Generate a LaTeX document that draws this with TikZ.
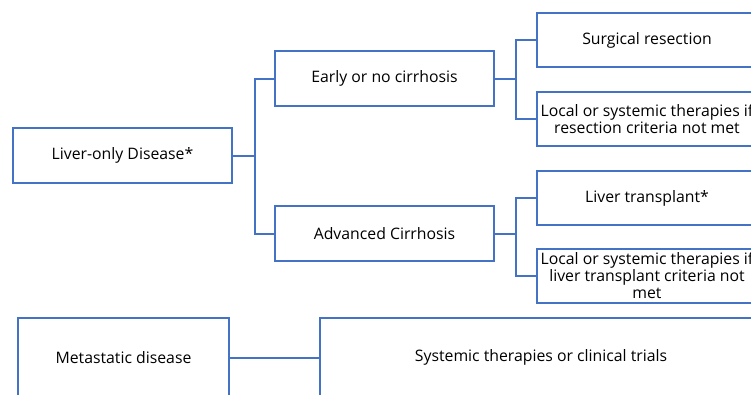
\documentclass[tikz,border=0pt]{standalone}
\usepackage{fontspec}
\setmainfont{Open Sans}
\usetikzlibrary{positioning}
\definecolor{boxblue}{RGB}{68,114,196}

\begin{document}
\begin{tikzpicture}[x=1pt,y=-1pt,
    box/.style={draw=boxblue, line width=2pt, minimum width=219pt,
        minimum height=55pt, align=center, inner sep=1pt,
        font=\fontsize{15.8}{17}\selectfont},
    link/.style={draw=boxblue, line width=2pt}]
    \useasboundingbox (0,0) rectangle (751,394);
    \clip (0,0) rectangle (751,394);
    % left part
    \node[box] (liver) at (122.5,155.5) {Liver-only Disease*};
    \node[box] (early) at (384.5,78.5) {Early or no cirrhosis};
    \node[box,
        below=98pt of early
        ] (adv) {Advanced Cirrhosis};
    % right column
    \node[box, minimum width=220pt, minimum height=54pt
        ] (surg) at (647,40) {Surgical resection};
    \node[box, minimum width=220pt, minimum height=54pt,
        below=23pt of surg
        ] (localres) {Local or systemic therapies if\\ resection criteria not met};
    \node[box, minimum width=220pt, minimum height=54pt,
        below=23pt of localres
        ] (transp) {Liver transplant*};
    \node[box, minimum width=220pt, minimum height=54pt,
        below=22pt of transp
        ] (localtx) {Local or systemic therapies if\\ liver transplant criteria not\\ met};
    % metastatic
    \node[box, minimum width=211pt, minimum height=80pt
        ] (meta) at (123.5,357.5) {Metastatic disease};
    \node[box, minimum width=442pt, minimum height=80pt,
        right=89pt of meta
        ] (syst) {Systemic therapies or clinical trials};

    \draw[link] (liver.east) -- ++(22,0) coordinate (j1);
    \draw[link] (early.west) -| (j1) |- (adv.west);
    \draw[link] (early.east) -- ++(21,0) coordinate (j2);
    \draw[link] (surg.west) -| (j2) |- (localres.west);
    \draw[link] (adv.east) -- ++(21,0) coordinate (j3);
    \draw[link] (transp.west) -| (j3) |- (localtx.west);
    \draw[link] (meta) -- (syst);
\end{tikzpicture}
\end{document}
